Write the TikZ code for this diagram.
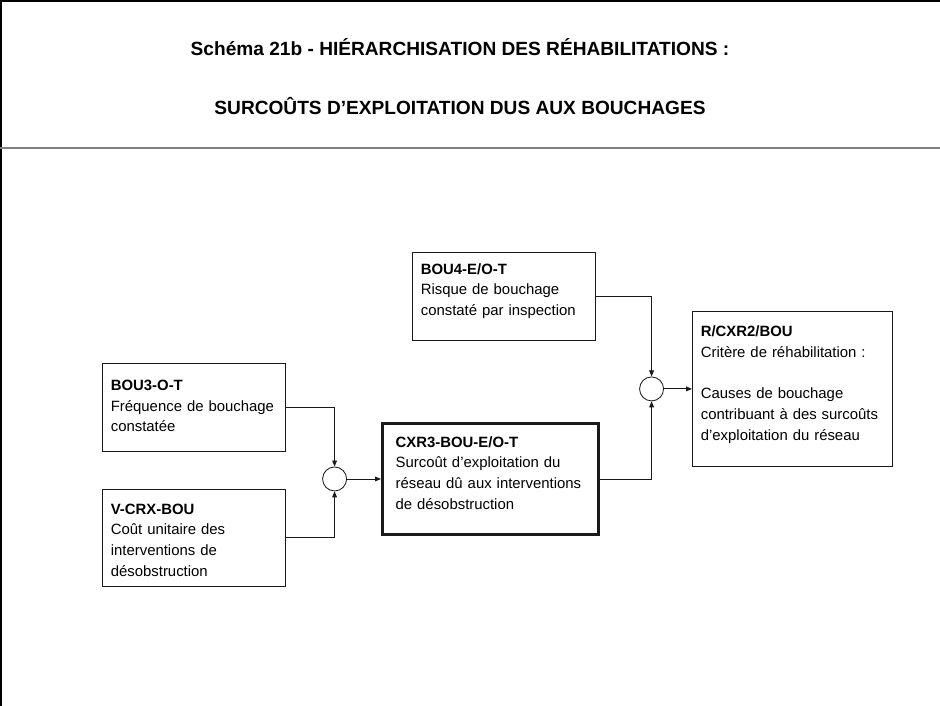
\documentclass[tikz,border=0pt]{standalone}
\usepackage{fontspec}
\setmainfont{Liberation Sans}
\usetikzlibrary{arrows.meta,positioning}
\definecolor{ink}{HTML}{1A1A1A}
\definecolor{rule}{HTML}{808080}

\begin{document}
\begin{tikzpicture}[x=1mm,y=1mm,
  box/.style={draw=ink,line width=0.6pt,align=left,anchor=north west,inner xsep=2.1mm,inner ysep=0pt,font=\fontsize{10.6}{14.8}\selectfont},
  boxsize/.style n args={3}{text width=#1,text height=#2,text depth=#3},
  keybox/.style={box,line width=2.1pt,inner xsep=3.3mm},
  sum/.style={circle,draw=ink,line width=0.6pt,minimum size=6mm,inner sep=0pt},
  headline/.style={anchor=base,font=\bfseries\fontsize{13.6}{16}\selectfont},
  arr/.style={-{Triangle[length=1.5mm,width=1.2mm]},draw=ink,line width=0.6pt}]
  \useasboundingbox (0,0) rectangle (235,176.5);
  \draw[line width=0.5mm] (0.25,0) -- (0.25,176.25) -- (235,176.25);
  \draw[rule,line width=0.5mm] (0,139.5) -- (235,139.5);
  \node[headline] (head1) at (115,162.5) {Schéma 21b - HIÉRARCHISATION DES RÉHABILITATIONS :};
  \node[headline] (head2) at (115,147.75) {SURCOÛTS D’EXPLOITATION DUS AUX BOUCHAGES};
  \node[box,boxsize={41.55mm}{6.7mm}{15.3mm}] (bou3) at (25.5,85.75) {\textbf{BOU3-O-T}\\Fréquence de bouchage\\constatée};
  \node[box,boxsize={41.55mm}{6.2mm}{18.05mm},below=9.25mm of bou3] (vcrx) {\textbf{V-CRX-BOU}\\Coût unitaire des\\interventions de\\désobstruction};
  \node[keybox,boxsize={47.4mm}{5.9mm}{21.85mm}] (cxr3) at (95.25,71) {\textbf{CXR3-BOU-E/O-T}\\Surcoût d’exploitation du\\réseau dû aux interventions\\de désobstruction};
  \node[box,boxsize={41.55mm}{5.4mm}{16.6mm}] (bou4) at (103,113.5) {\textbf{BOU4-E/O-T}\\Risque de bouchage\\constaté par inspection};
  \node[box,boxsize={45.8mm}{6.2mm}{32.55mm}] (rcxr) at (173,98.75) {\textbf{R/CXR2/BOU}\\Critère de réhabilitation :\\[14.8pt]Causes de bouchage\\contribuant à des surcoûts\\d’exploitation du réseau};
  \node[sum,left=8.5mm of cxr3] (sum1) {};
  \node[sum,left=7mm of rcxr] (sum2) {};
  \draw[arr] (bou3.east) -| (sum1.north);
  \draw[arr] (vcrx.east) -| (sum1.south);
  \draw[arr] (sum1) -- (cxr3);
  \draw[arr] (bou4.east) -| (sum2.north);
  \draw[arr] (cxr3.east) -| (sum2.south);
  \draw[arr] (sum2) -- (rcxr.west|-sum2);
\end{tikzpicture}
\end{document}
